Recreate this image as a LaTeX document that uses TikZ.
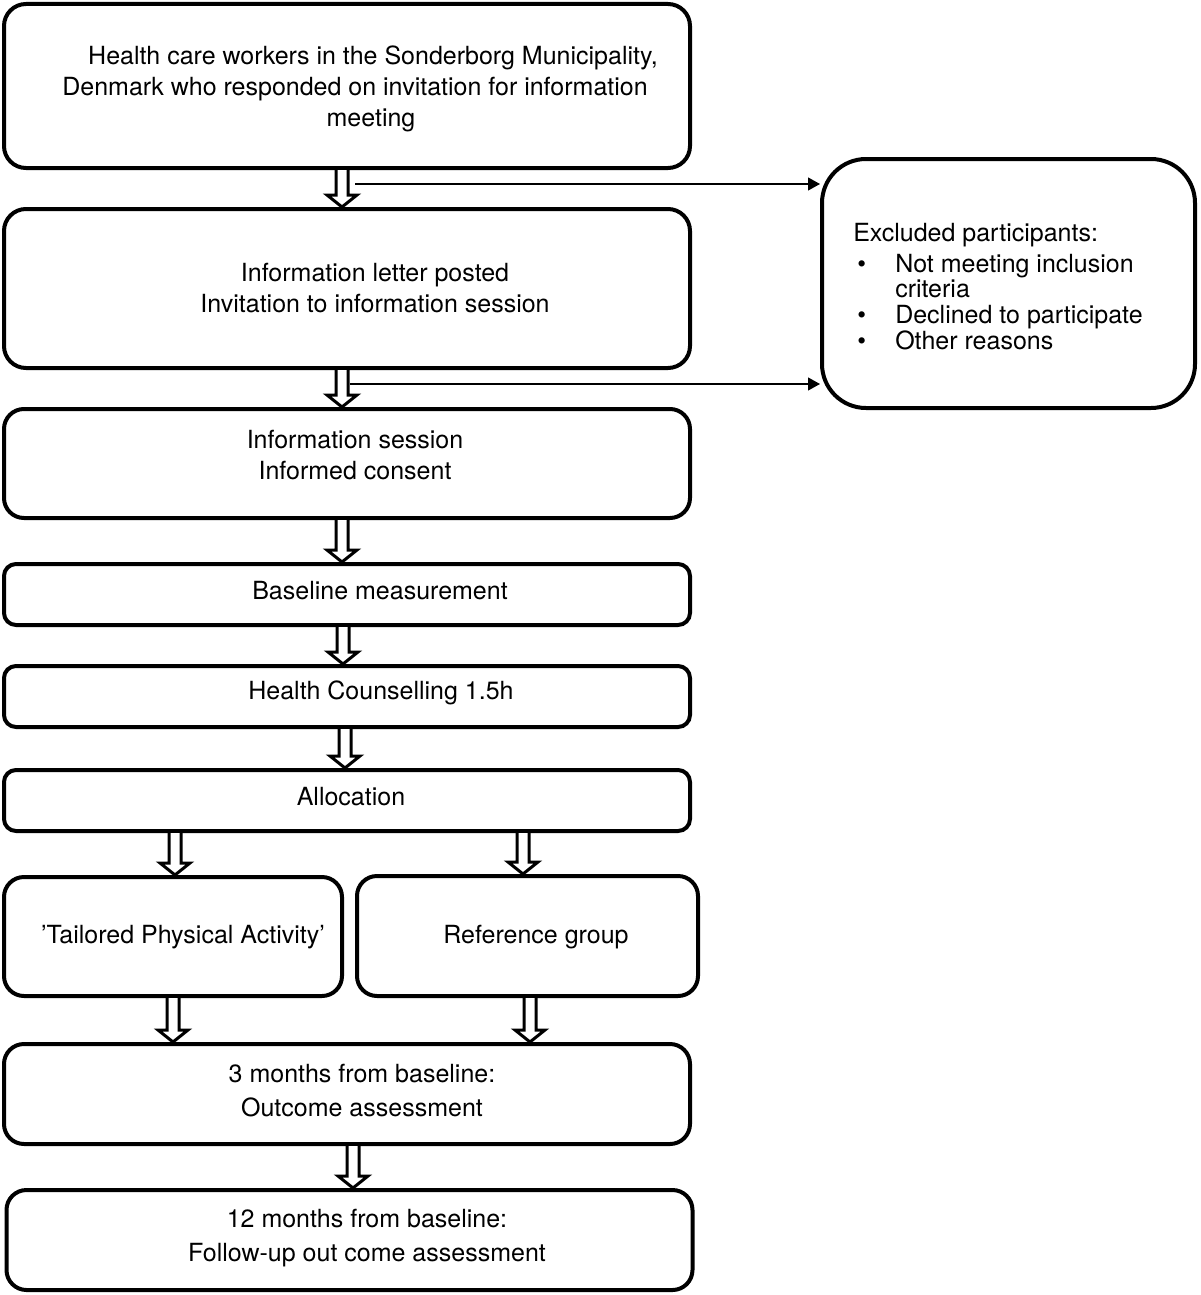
\documentclass[tikz,border=0pt]{standalone}
\usepackage{fontspec}
\setmainfont{TeX Gyre Heros}
\usetikzlibrary{calc,arrows.meta}
\tikzset{
    box/.style={draw, line width=2pt, rounded corners=#1},
    box/.default=10pt,
    txt/.style={align=center, inner sep=0pt, font=\fontsize{12.5}{15.5}\selectfont},
    txtwide/.style={txt, font=\fontsize{12.5}{17}\selectfont},
    hollowarrow/.style={draw, fill=white, line width=1.5pt},
    thinarrow/.style={line width=0.6pt, -{Triangle[length=6pt,width=6.5pt]}}
}
\newcommand{\hollowdown}[3]{%
    \path (#1,0 |- #2.south) coordinate (ha) (#1,0 |- #3.north) coordinate (hb);
    \filldraw[hollowarrow] ($(ha)+(-6,0)$) -- ($(hb)+(-6,-12)$) -- ($(hb)+(-15,-12)$)
        -- (hb) -- ($(hb)+(15,-12)$) -- ($(hb)+(6,-12)$) -- ($(ha)+(6,0)$);
}

\begin{document}
\begin{tikzpicture}[x=0.5pt, y=-0.5pt]
    \useasboundingbox (0,0) rectangle (1200,1295);
    % main column
    \node[box=11pt, minimum width=343pt, minimum height=82pt] (top) at (347,86) {};
    \node[box=11pt, minimum width=343pt, minimum height=79.5pt] (letter) at (347,288.5) {};
    \node[box=10pt, minimum width=343pt, minimum height=54.5pt] (session) at (347,463.5) {};
    \node[box=6pt, minimum width=343pt, minimum height=30.5pt] (baseline) at (347,594.5) {};
    \node[box=6pt, minimum width=343pt, minimum height=30.5pt] (counsel) at (347,696.5) {};
    \node[box=6pt, minimum width=343pt, minimum height=30.5pt] (alloc) at (347,800.5) {};
    \node[box=10pt, minimum width=169pt, minimum height=59.5pt] (tailored) at (173,936.5) {};
    \node[box=10pt, minimum width=170.5pt, minimum height=60pt] (refgrp) at (527.5,936) {};
    \node[box=10pt, minimum width=343pt, minimum height=50pt] (three) at (347,1094) {};
    \node[box=10pt, minimum width=343pt, minimum height=50pt] (twelve) at (349.5,1240) {};
    \node[box=22pt, minimum width=186.5pt, minimum height=124.5pt] (excl) at (1008.5,283.5) {};

    % texts
    \node[txt] (topt) at (355,89)
        {\hspace*{18pt}Health care workers in the Sonderborg Municipality,\\
         Denmark who responded on invitation for information\\
         \hspace*{16pt}meeting};
    \node[txt] (lettert) at (375,288.5)
        {Information letter posted\\ Invitation to information session};
    \node[txt] (sessiont) at (355,455.5) {Information session\\ Informed consent};
    \node[txt] (baselinet) at (380,591) {Baseline measurement};
    \node[txt] (counselt) at (381,693) {Health Counselling 1.5h};
    \node[txt] (alloct) at (351,797) {Allocation};
    \node[txt] (tailoredt) at (183,937) {’Tailored Physical Activity’};
    \node[txt] (refgrpt) at (536,937) {Reference group};
    \node[txtwide] (threet) at (362,1091) {3 months from baseline:\\ Outcome assessment};
    \node[txtwide] (twelvet) at (367,1238)
        {12 months from baseline:\\ Follow-up out come assessment};
    \node[txt, font=\fontsize{12.5}{12.4}\selectfont] (exclt) at (998,290)
        {\begin{tabular}{@{\hspace{2pt}}p{19pt}@{}l@{}}
             \multicolumn{2}{@{}l@{}}{Excluded participants:}\\[3.1pt]
             \textbullet & Not meeting inclusion\\
                         & criteria\\
             \textbullet & Declined to participate\\
             \textbullet & Other reasons
         \end{tabular}};

    \hollowdown{342}{top}{letter}
    \hollowdown{342}{letter}{session}
    \hollowdown{342}{session}{baseline}
    \hollowdown{343}{baseline}{counsel}
    \hollowdown{345}{counsel}{alloc}
    \hollowdown{175}{alloc}{tailored}
    \hollowdown{523}{alloc}{refgrp}
    \hollowdown{173}{tailored}{three}
    \hollowdown{530}{refgrp}{three}
    \hollowdown{353}{three}{twelve}

    \coordinate (x1) at (355,184);
    \coordinate (x2) at (350,384);
    \draw[thinarrow] (x1) -- (x1 -| excl.west);
    \draw[thinarrow] (x2) -- (x2 -| excl.west);
\end{tikzpicture}
\end{document}
